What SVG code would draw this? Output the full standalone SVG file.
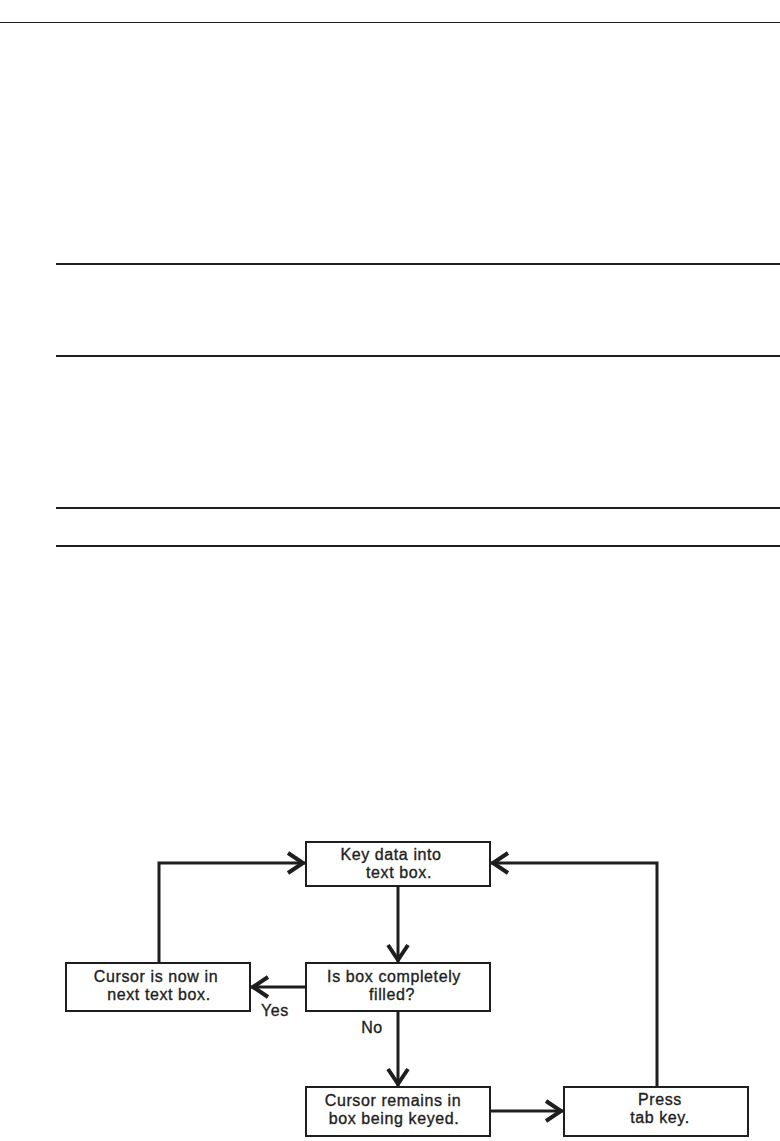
<svg xmlns="http://www.w3.org/2000/svg" width="780" height="1141" viewBox="0 0 780 1141">
<style>
.rule{stroke:#1e1e1e;stroke-width:2;fill:none}
.box{fill:#fff;stroke:#1e1e1e;stroke-width:2}
.lbl{font-family:"Liberation Sans",Arial,sans-serif;font-size:16px;fill:#1e1e1e;stroke:#1e1e1e;stroke-width:0.35px;text-anchor:middle;letter-spacing:0.6px}
.conn{stroke:#1e1e1e;stroke-width:3;fill:none}
</style>
<defs>
<marker id="ah" viewBox="-24 -14 28 28" refX="0" refY="0" markerWidth="28" markerHeight="28" markerUnits="userSpaceOnUse" orient="auto">
<path d="M-18,-10 L-3,0 L-18,10" fill="none" stroke="#1e1e1e" stroke-width="4" stroke-linejoin="miter"/>
</marker>
</defs>
<rect width="780" height="1141" fill="#fff"/>
<line x1="0" y1="22.5" x2="780" y2="22.5" stroke="#1e1e1e" stroke-width="1.2"/>
<line class="rule" x1="56" y1="264" x2="780" y2="264"/>
<line class="rule" x1="56" y1="356" x2="780" y2="356"/>
<line class="rule" x1="56" y1="508" x2="780" y2="508"/>
<line class="rule" x1="56" y1="546" x2="780" y2="546"/>
<g id="connectors">
<path class="conn" d="M398,886 V963" marker-end="url(#ah)"/>
<path class="conn" d="M159,963 V863 H306" marker-end="url(#ah)"/>
<path class="conn" d="M657,1087 V863 H490" marker-end="url(#ah)"/>
<path class="conn" d="M306,987 H250" marker-end="url(#ah)"/>
<path class="conn" d="M398,1011 V1087" marker-end="url(#ah)"/>
<path class="conn" d="M490,1111 H564" marker-end="url(#ah)"/>
<text class="lbl" x="275" y="1016">Yes</text>
<text class="lbl" x="372" y="1033">No</text>
</g>
<g id="key-data">
<rect class="box" x="306" y="842" width="184" height="44"/>
<text class="lbl" x="391" y="860">Key data into</text>
<text class="lbl" x="399" y="878">text box.</text>
</g>
<g id="is-filled">
<rect class="box" x="306" y="963" width="184" height="48"/>
<text class="lbl" x="394" y="982">Is box completely</text>
<text class="lbl" x="392" y="1000">filled?</text>
</g>
<g id="next-box">
<rect class="box" x="66" y="963" width="184" height="48"/>
<text class="lbl" x="156" y="982">Cursor is now in</text>
<text class="lbl" x="159" y="1000">next text box.</text>
</g>
<g id="remains">
<rect class="box" x="306" y="1087" width="184" height="49"/>
<text class="lbl" x="393" y="1106">Cursor remains in</text>
<text class="lbl" x="394" y="1124">box being keyed.</text>
</g>
<g id="press-tab">
<rect class="box" x="564" y="1087" width="184" height="49"/>
<text class="lbl" x="660" y="1105">Press</text>
<text class="lbl" x="660" y="1123">tab key.</text>
</g>
</svg>
